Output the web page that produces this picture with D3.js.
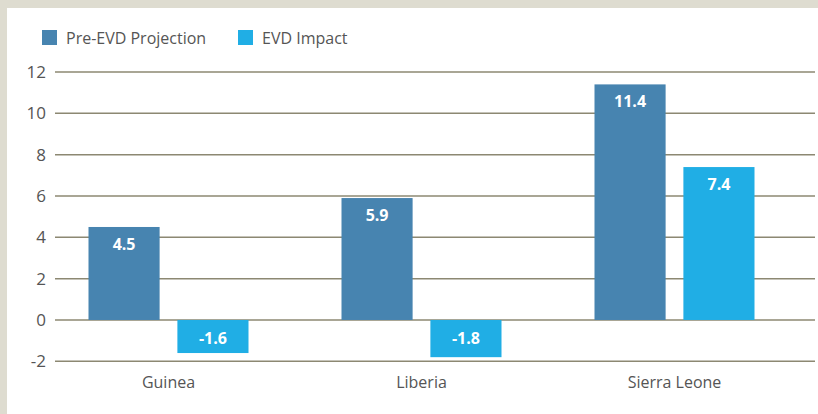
<!DOCTYPE html>
<html>
<head>
<meta charset="utf-8">
<script src="https://cdn.jsdelivr.net/npm/d3@7"></script>
<style>
  body { margin: 0; background: #dedcd0; }
  text { font-family: "Open Sans", "Noto Sans", sans-serif; }
</style>
</head>
<body>
<div id="chart"></div>
<script>
// data
const countries = ["Guinea", "Liberia", "Sierra Leone"];
const seriesNames = ["Pre-EVD Projection", "EVD Impact"];
const preEvd = [4.5, 5.9, 11.4];
const evdImpact = [-1.6, -1.8, 7.4];
const yTicks = [-2, 0, 2, 4, 6, 8, 10, 12];
const colors = ["#4784b0", "#20aee5"];

const width = 818, height = 414;

const svg = d3.select("#chart")
  .append("svg")
  .attr("width", width)
  .attr("height", height);

// white panel inside the beige frame
svg.append("rect")
  .attr("x", 7).attr("y", 8)
  .attr("width", width - 7).attr("height", height - 8)
  .attr("fill", "#fff");

const y = d3.scaleLinear().domain([-2, 12]).range([361.3, 72]);
const x = d3.scaleBand().domain(countries).range([42, 801]);
const xSub = d3.scaleBand().domain(seriesNames).range([0, 160]).paddingInner(0.2);

// gridlines
svg.append("g")
  .selectAll("line")
  .data(yTicks)
  .join("line")
  .attr("x1", 55).attr("x2", 815)
  .attr("y1", d => y(d)).attr("y2", d => y(d))
  .attr("stroke", "#8c8872")
  .attr("stroke-width", 1.5);

// y tick labels
svg.append("g")
  .selectAll("text")
  .data(yTicks)
  .join("text")
  .attr("x", 46)
  .attr("y", d => y(d))
  .attr("dy", "0.35em")
  .attr("text-anchor", "end")
  .attr("font-size", 17)
  .attr("fill", "#555")
  .text(d => d);

// bars
const rows = countries.map((c, i) => ({ country: c, values: [preEvd[i], evdImpact[i]] }));

const groups = svg.append("g")
  .selectAll("g")
  .data(rows)
  .join("g")
  .attr("transform", d => `translate(${x(d.country) + x.bandwidth() / 2 - 80},0)`);

const cells = groups.selectAll("g")
  .data(d => d.values.map((v, j) => ({ name: seriesNames[j], value: v, idx: j })))
  .join("g");

cells.append("rect")
  .attr("x", d => xSub(d.name))
  .attr("width", xSub.bandwidth())
  .attr("y", d => y(Math.max(0, d.value)))
  .attr("height", d => Math.abs(y(d.value) - y(0)))
  .attr("fill", d => colors[d.idx]);

cells.append("text")
  .attr("x", d => xSub(d.name) + xSub.bandwidth() / 2)
  .attr("y", d => d.value >= 0 ? y(d.value) + 23 : y(0) + 24)
  .attr("text-anchor", "middle")
  .attr("font-size", 16)
  .attr("font-weight", "bold")
  .attr("fill", "#fff")
  .text(d => d.value.toFixed(1));

// category labels
svg.append("g")
  .selectAll("text")
  .data(countries)
  .join("text")
  .attr("x", d => x(d) + x.bandwidth() / 2)
  .attr("y", 388)
  .attr("text-anchor", "middle")
  .attr("font-size", 16)
  .attr("fill", "#555")
  .text(d => d);

// legend
const legendX = [42, 238];
const legend = svg.append("g")
  .selectAll("g")
  .data(seriesNames)
  .join("g")
  .attr("transform", (d, i) => `translate(${legendX[i]},30)`);

legend.append("rect")
  .attr("width", 15).attr("height", 15)
  .attr("fill", (d, i) => colors[i]);

legend.append("text")
  .attr("x", 24)
  .attr("y", 14)
  .attr("font-size", 16)
  .attr("fill", "#555")
  .text(d => d);
</script>
</body>
</html>
